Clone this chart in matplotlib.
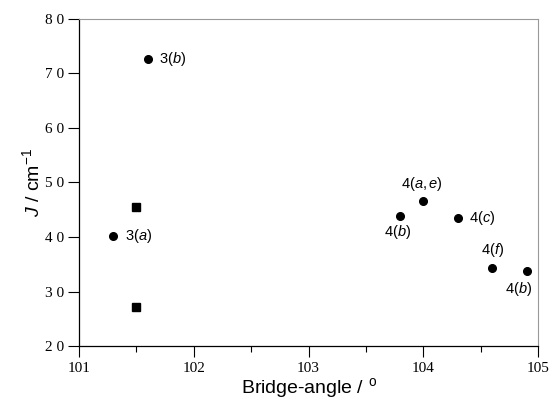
import matplotlib
matplotlib.use("Agg")
import matplotlib.pyplot as plt
from matplotlib.ticker import MultipleLocator, FuncFormatter

# circles: labelled compounds
circle_angle = [101.6, 101.3, 103.8, 104.0, 104.3, 104.6, 104.9]
circle_j = [72.7, 40.2, 43.9, 46.6, 43.5, 34.3, 33.7]
circle_labels = ["3($b$)", "3($a$)", "4($b$)", "4($a,e$)", "4($c$)", "4($f$)", "4($b$)"]
# label offsets in points (dx, dy, ha)
label_pos = [(8, 0, "left"), (8, 0, "left"), (-2, -12, "center"), (-1, 12, "center"),
             (8, 0, "left"), (0, 13, "center"), (-6, -13, "center")]

# squares
square_angle = [101.5, 101.5]
square_j = [45.5, 27.2]

plt.rcParams["mathtext.fontset"] = "custom"
plt.rcParams["mathtext.it"] = "Liberation Sans:italic"
plt.rcParams["mathtext.rm"] = "Liberation Sans"

fig = plt.figure(figsize=(5.53, 4.03), dpi=100)
ax = fig.add_axes([0.1429, 0.1414, 0.83, 0.8115])

ax.plot(circle_angle, circle_j, "o", color="black", ms=5.5, ls="none")
ax.plot(square_angle, square_j, "s", color="black", ms=5.5, ls="none")

for x, y, lab, (dx, dy, ha) in zip(circle_angle, circle_j, circle_labels, label_pos):
    ax.annotate(lab, (x, y), xytext=(dx, dy), textcoords="offset points",
                ha=ha, va="center", fontsize=10.5, family="Liberation Sans")

ax.set_xlim(101, 105)
ax.set_ylim(20, 80)
ax.xaxis.set_major_locator(MultipleLocator(1))
ax.xaxis.set_minor_locator(MultipleLocator(0.5))
ax.yaxis.set_major_locator(MultipleLocator(10))
# old-style spaced digits on the J axis
ax.yaxis.set_major_formatter(FuncFormatter(lambda v, p: " ".join(f"{v:.0f}")))

ax.tick_params(axis="both", which="major", direction="out", length=8, width=0.8)
ax.tick_params(axis="x", which="minor", direction="out", length=4, width=0.8)
ax.tick_params(axis="y", pad=3)
for lab in ax.get_xticklabels() + ax.get_yticklabels():
    lab.set_family("Liberation Serif")
    lab.set_fontsize(11)

for side in ["top", "right"]:
    ax.spines[side].set_color("#999999")
    ax.spines[side].set_linewidth(0.8)
for side in ["left", "bottom"]:
    ax.spines[side].set_linewidth(0.9)

ax.set_xlabel("Bridge-angle / $^{\\mathrm{o}}$", fontsize=14, family="Liberation Sans", labelpad=1)
ax.set_ylabel("$J$ / cm$^{-1}$", fontsize=14, family="Liberation Sans", labelpad=1)

fig.savefig("out.png", dpi=100)
